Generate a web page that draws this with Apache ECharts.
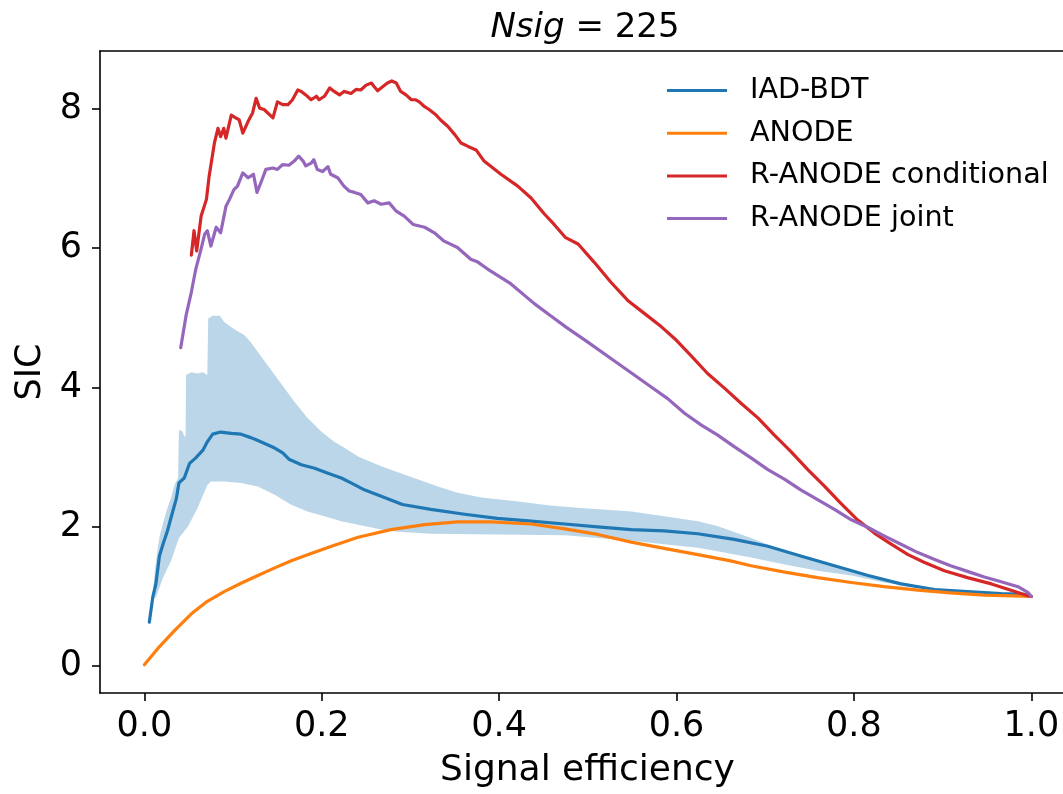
<!DOCTYPE html>
<html>
<head>
<meta charset="utf-8">
<script src="https://cdn.jsdelivr.net/npm/echarts@6/dist/echarts.min.js"></script>
<style>
html,body{margin:0;padding:0;background:#fff;}
#chart{width:1063px;height:794px;}
</style>
</head>
<body>
<div id="chart"></div>
<script>
// ---------- data ----------
const xTicks = [0.0, 0.2, 0.4, 0.6, 0.8, 1.0];
const yTicks = [0, 2, 4, 6, 8];
const seriesNames = ['IAD-BDT', 'ANODE', 'R-ANODE conditional', 'R-ANODE joint'];

const iadBdt = [[0.0056,0.63],[0.0095,0.99],[0.013,1.18],[0.017,1.58],[0.021,1.75],[0.026,1.94],[0.032,2.22],[0.036,2.40],[0.039,2.63],[0.045,2.70],[0.051,2.91],[0.058,2.99],[0.066,3.10],[0.071,3.22],[0.077,3.33],[0.086,3.36],[0.098,3.34],[0.109,3.33],[0.120,3.28],[0.126,3.25],[0.135,3.20],[0.147,3.13],[0.156,3.06],[0.163,2.97],[0.177,2.89],[0.192,2.84],[0.207,2.77],[0.222,2.70],[0.233,2.63],[0.248,2.53],[0.267,2.44],[0.291,2.32],[0.323,2.25],[0.361,2.18],[0.398,2.12],[0.436,2.08],[0.474,2.04],[0.511,2.00],[0.549,1.96],[0.586,1.94],[0.624,1.90],[0.665,1.82],[0.703,1.72],[0.740,1.58],[0.778,1.44],[0.816,1.30],[0.853,1.18],[0.891,1.10],[0.928,1.07],[0.966,1.04],[0.992,1.03],[1.0,1.0]];

const iadBandUpper = [[0.009,1.0],[0.013,1.5],[0.017,1.85],[0.021,2.05],[0.026,2.27],[0.030,2.41],[0.034,2.60],[0.038,2.70],[0.039,3.39],[0.043,3.37],[0.045,3.30],[0.0465,3.30],[0.047,4.18],[0.053,4.22],[0.060,4.20],[0.066,4.22],[0.071,4.18],[0.072,4.99],[0.077,5.03],[0.085,5.03],[0.090,4.94],[0.101,4.84],[0.113,4.75],[0.120,4.65],[0.128,4.51],[0.139,4.32],[0.147,4.18],[0.158,3.99],[0.169,3.80],[0.184,3.56],[0.199,3.37],[0.214,3.22],[0.226,3.13],[0.241,3.01],[0.267,2.87],[0.304,2.70],[0.331,2.58],[0.353,2.49],[0.380,2.42],[0.417,2.37],[0.455,2.31],[0.492,2.27],[0.549,2.22],[0.586,2.15],[0.624,2.08],[0.646,2.01],[0.684,1.84],[0.722,1.65],[0.759,1.49],[0.797,1.37],[0.834,1.25],[0.872,1.15],[0.909,1.09],[0.947,1.06],[1.0,1.0]];

const iadBandLower = [[0.009,0.95],[0.013,0.99],[0.021,1.27],[0.030,1.51],[0.039,1.84],[0.049,2.00],[0.060,2.27],[0.071,2.60],[0.075,2.65],[0.090,2.65],[0.109,2.63],[0.128,2.58],[0.147,2.46],[0.165,2.32],[0.184,2.22],[0.203,2.15],[0.222,2.08],[0.248,2.01],[0.267,1.96],[0.286,1.93],[0.323,1.90],[0.398,1.89],[0.474,1.88],[0.511,1.84],[0.549,1.80],[0.586,1.75],[0.624,1.70],[0.646,1.65],[0.684,1.56],[0.722,1.46],[0.759,1.37],[0.797,1.30],[0.834,1.20],[0.872,1.13],[0.909,1.07],[0.947,1.04],[1.0,1.0]];

const anode = [[0.0,0.02],[0.015,0.25],[0.034,0.51],[0.053,0.75],[0.071,0.93],[0.090,1.07],[0.109,1.19],[0.128,1.30],[0.147,1.41],[0.165,1.51],[0.184,1.60],[0.211,1.72],[0.241,1.85],[0.278,1.96],[0.316,2.03],[0.353,2.07],[0.391,2.07],[0.436,2.04],[0.474,1.97],[0.511,1.89],[0.549,1.78],[0.586,1.69],[0.624,1.60],[0.661,1.51],[0.684,1.44],[0.722,1.35],[0.759,1.27],[0.797,1.20],[0.834,1.14],[0.872,1.09],[0.909,1.05],[0.947,1.02],[1.0,1.0]];

const rAnodeCond = [[0.053,5.90],[0.056,6.25],[0.059,5.96],[0.064,6.46],[0.070,6.70],[0.073,7.03],[0.079,7.51],[0.083,7.72],[0.086,7.60],[0.0895,7.72],[0.092,7.58],[0.098,7.91],[0.103,7.87],[0.107,7.84],[0.111,7.65],[0.117,7.82],[0.122,7.94],[0.126,8.15],[0.130,8.01],[0.135,7.99],[0.145,7.87],[0.150,8.10],[0.156,8.06],[0.162,8.06],[0.167,8.13],[0.173,8.27],[0.177,8.25],[0.182,8.20],[0.188,8.13],[0.194,8.18],[0.197,8.13],[0.203,8.18],[0.209,8.30],[0.214,8.25],[0.220,8.20],[0.225,8.25],[0.233,8.22],[0.239,8.28],[0.244,8.27],[0.250,8.34],[0.256,8.37],[0.259,8.32],[0.263,8.26],[0.269,8.32],[0.274,8.37],[0.279,8.40],[0.284,8.37],[0.289,8.25],[0.295,8.20],[0.301,8.13],[0.306,8.13],[0.310,8.10],[0.316,8.03],[0.321,7.99],[0.329,7.91],[0.334,7.84],[0.342,7.75],[0.350,7.63],[0.357,7.51],[0.365,7.46],[0.374,7.41],[0.383,7.25],[0.402,7.06],[0.421,6.89],[0.436,6.72],[0.451,6.49],[0.462,6.34],[0.475,6.15],[0.489,6.06],[0.507,5.80],[0.526,5.51],[0.545,5.25],[0.564,5.06],[0.583,4.87],[0.598,4.70],[0.616,4.46],[0.635,4.20],[0.654,3.99],[0.673,3.77],[0.692,3.56],[0.710,3.32],[0.729,3.08],[0.748,2.82],[0.767,2.58],[0.785,2.34],[0.804,2.10],[0.823,1.91],[0.842,1.75],[0.861,1.60],[0.879,1.49],[0.902,1.37],[0.928,1.27],[0.955,1.18],[0.977,1.09],[0.996,1.01],[1.0,1.0]];

const rAnodeJoint = [[0.041,4.57],[0.047,5.03],[0.053,5.37],[0.058,5.70],[0.064,5.99],[0.068,6.20],[0.071,6.25],[0.075,6.03],[0.081,6.30],[0.086,6.22],[0.092,6.60],[0.096,6.70],[0.101,6.84],[0.105,6.89],[0.111,7.08],[0.117,7.01],[0.123,7.06],[0.127,6.80],[0.132,6.96],[0.137,7.13],[0.145,7.15],[0.150,7.13],[0.156,7.20],[0.163,7.19],[0.169,7.25],[0.174,7.32],[0.179,7.25],[0.182,7.18],[0.188,7.22],[0.191,7.27],[0.195,7.13],[0.201,7.10],[0.207,7.17],[0.210,7.06],[0.218,7.01],[0.225,6.89],[0.231,6.82],[0.237,6.80],[0.244,6.77],[0.252,6.65],[0.259,6.68],[0.267,6.63],[0.276,6.65],[0.284,6.53],[0.293,6.46],[0.303,6.34],[0.316,6.30],[0.327,6.22],[0.338,6.10],[0.353,6.01],[0.368,5.84],[0.376,5.80],[0.387,5.70],[0.413,5.49],[0.440,5.20],[0.458,5.03],[0.475,4.87],[0.500,4.65],[0.530,4.38],[0.550,4.20],[0.571,4.01],[0.590,3.84],[0.609,3.63],[0.628,3.46],[0.646,3.32],[0.665,3.15],[0.684,2.99],[0.703,2.82],[0.722,2.68],[0.740,2.53],[0.759,2.39],[0.778,2.25],[0.797,2.10],[0.816,1.99],[0.834,1.87],[0.853,1.75],[0.872,1.63],[0.891,1.53],[0.909,1.44],[0.928,1.36],[0.947,1.28],[0.966,1.21],[0.985,1.14],[0.996,1.06],[1.0,1.0]];

// ---------- chart ----------
const FONT = 'DejaVu Sans';
const chart = echarts.init(document.getElementById('chart'), null, {renderer: 'canvas'});

function lineSeries(name, data, color, z) {
  return {
    type: 'line', name: name, data: data, showSymbol: false, symbol: 'none',
    lineStyle: {color: color, width: 3.2, join: 'round', cap: 'round'},
    itemStyle: {color: color}, z: z, silent: true, animation: false
  };
}

const axisBlack = {color: '#000', width: 1.6};

const option = {
  animation: false,
  backgroundColor: '#ffffff',
  title: {
    text: '{i|Nsig} = 225',
    left: 580, top: 6, textAlign: 'center',
    textStyle: {
      fontFamily: FONT, fontSize: 34, fontWeight: 'normal', color: '#000',
      rich: {i: {fontFamily: FONT, fontSize: 34, fontStyle: 'italic', color: '#000'}}
    }
  },
  legend: {
    data: seriesNames,
    orient: 'vertical', left: 667, top: 76, padding: 0,
    icon: 'rect', itemWidth: 60, itemHeight: 3, itemGap: 13.7,
    textStyle: {fontFamily: FONT, fontSize: 28.6, color: '#000', lineHeight: 28, padding: [0, 0, 0, 18]}
  },
  grid: {
    left: 100, top: 51, bottom: 98, right: 0,
    show: false
  },
  xAxis: [{
    type: 'value', min: -0.05, max: 1.0357, position: 'bottom',
    name: 'Signal efficiency', nameLocation: 'middle', nameGap: 60,
    nameTextStyle: {fontFamily: FONT, fontSize: 36, color: '#000', padding: [0, 0, 0, 12]},
    axisLine: {show: true, onZero: false, lineStyle: axisBlack},
    axisTick: {show: true, length: 8, lineStyle: axisBlack, customValues: xTicks},
    axisLabel: {fontFamily: FONT, fontSize: 35, color: '#000', margin: 16, customValues: xTicks,
      formatter: v => Number(v).toFixed(1)},
    splitLine: {show: false}
  }, {
    type: 'value', min: -0.05, max: 1.0357, position: 'top',
    axisLine: {show: true, onZero: false, lineStyle: axisBlack},
    axisTick: {show: false}, axisLabel: {show: false}, splitLine: {show: false}
  }],
  yAxis: {
    type: 'value', min: -0.386, max: 8.83,
    name: 'SIC', nameLocation: 'middle', nameGap: 48,
    nameTextStyle: {fontFamily: FONT, fontSize: 35, color: '#000'},
    axisLine: {show: true, onZero: false, lineStyle: axisBlack},
    axisTick: {show: true, length: 8, lineStyle: axisBlack, customValues: yTicks},
    axisLabel: {fontFamily: FONT, fontSize: 35, color: '#000', margin: 18, customValues: yTicks,
      formatter: v => String(Math.round(v))},
    splitLine: {show: false}
  },
  series: [
    {
      type: 'custom', name: 'IAD-BDT band', silent: true, z: 1, clip: true,
      data: [[0, 0]],
      renderItem: function (params, api) {
        const pts = iadBandUpper.map(p => api.coord(p))
          .concat(iadBandLower.slice().reverse().map(p => api.coord(p)));
        return {type: 'polygon', shape: {points: pts},
          style: {fill: 'rgba(31,119,180,0.3)', stroke: 'none'}};
      }
    },
    lineSeries('IAD-BDT', iadBdt, '#1f77b4', 3),
    lineSeries('ANODE', anode, '#ff7f0e', 4),
    lineSeries('R-ANODE conditional', rAnodeCond, '#d62728', 5),
    lineSeries('R-ANODE joint', rAnodeJoint, '#9467bd', 6)
  ]
};
chart.setOption(option);
</script>
</body>
</html>
